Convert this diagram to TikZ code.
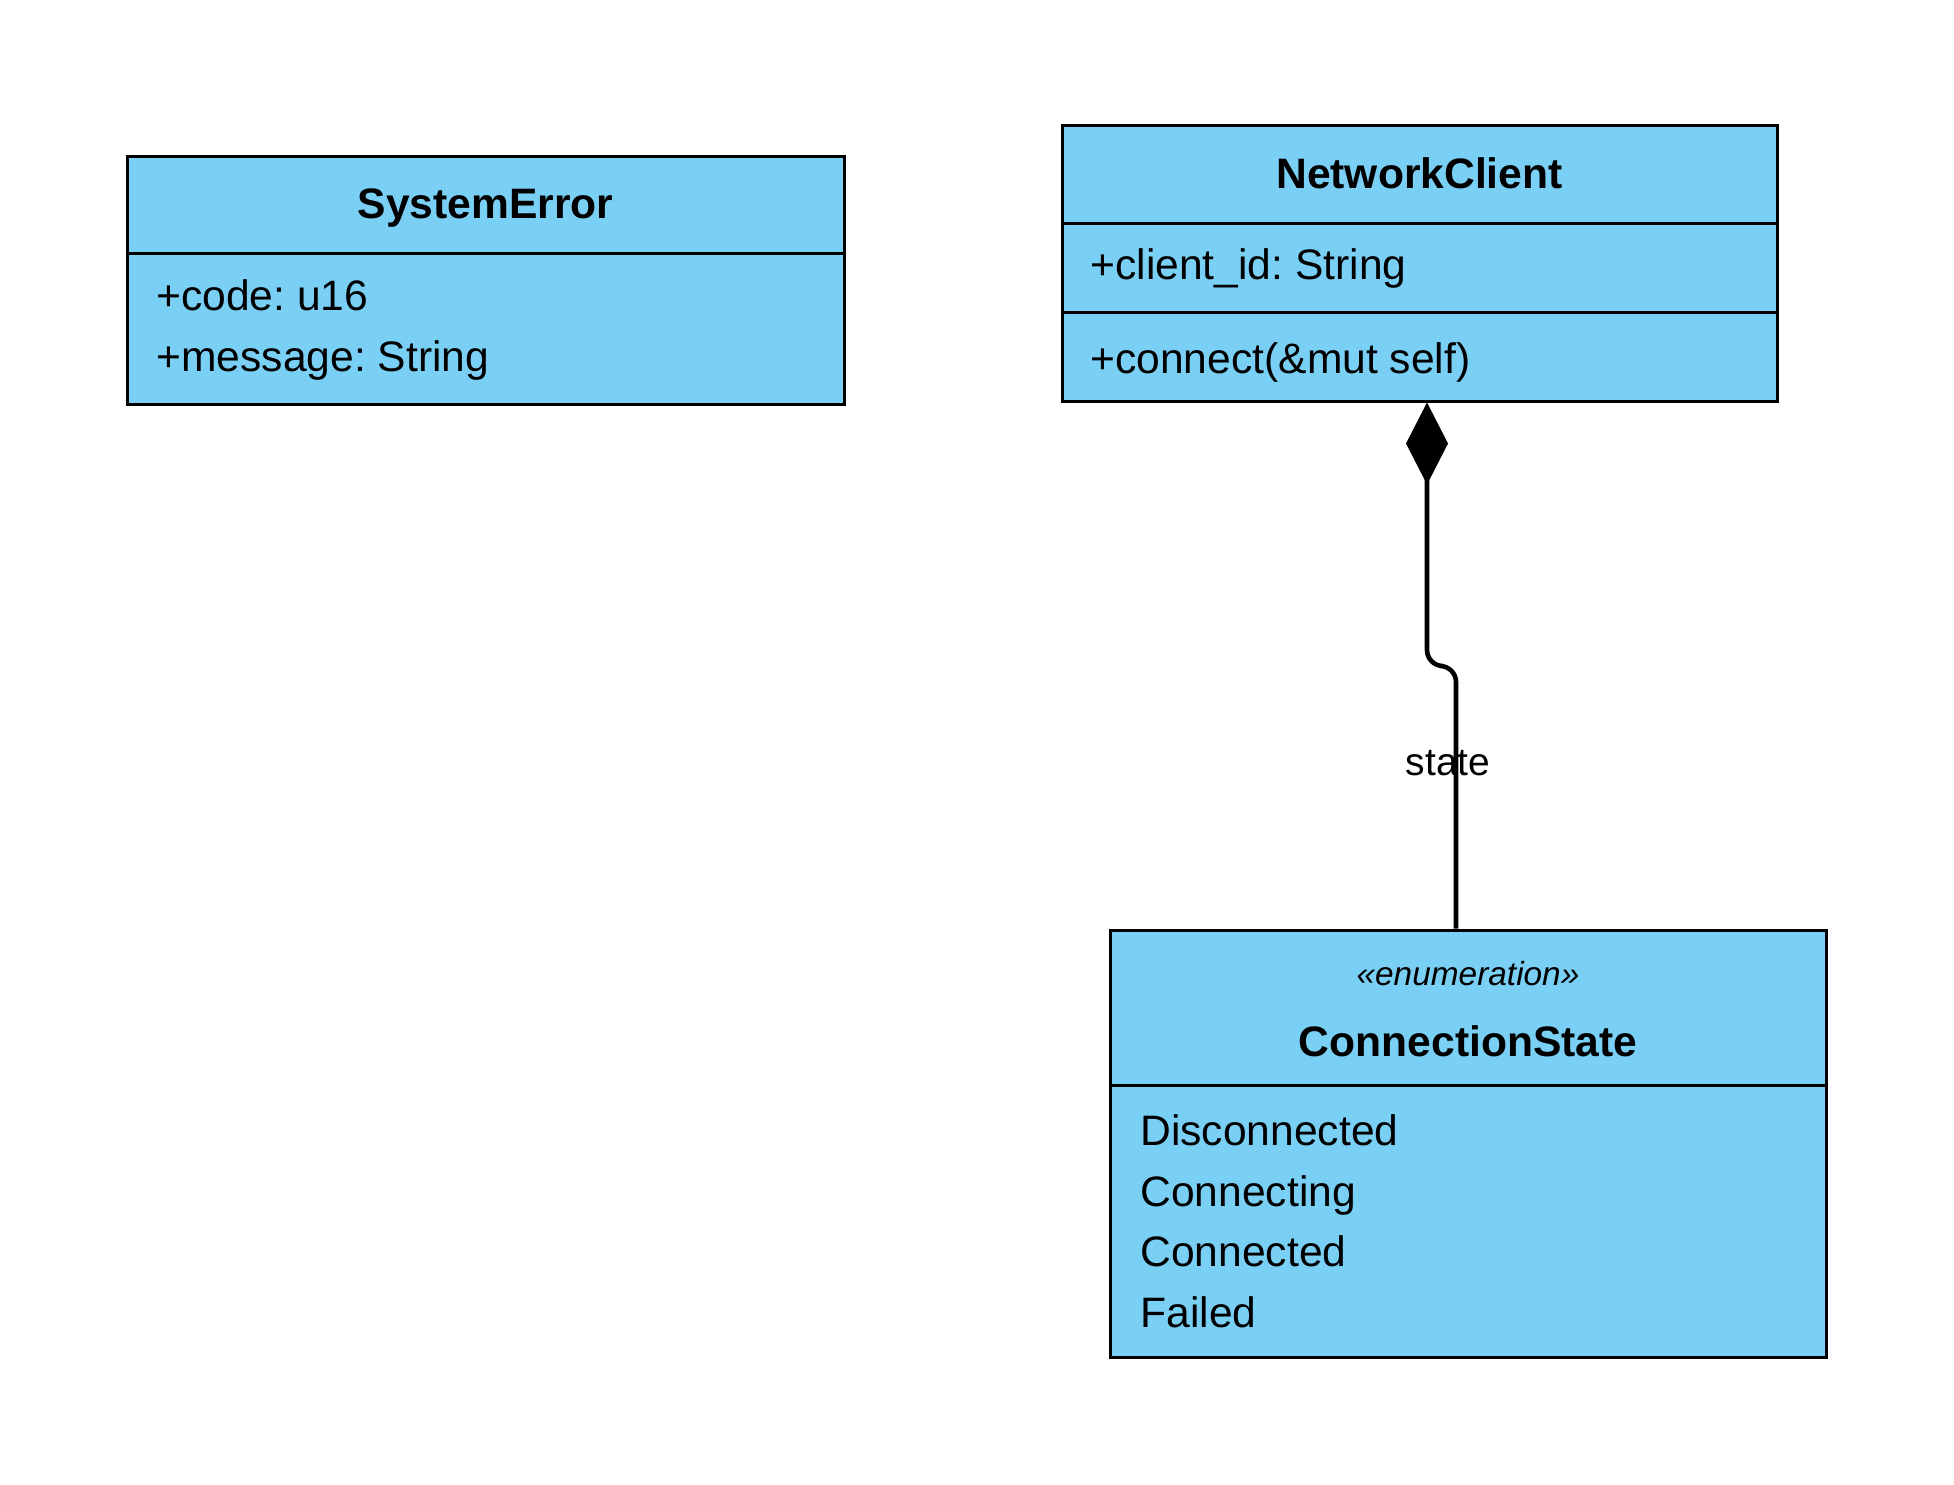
\documentclass[tikz,border=0pt]{standalone}
\usepackage{fontspec}
\setmainfont{Liberation Sans}
\usetikzlibrary{arrows.meta,calc}
\definecolor{umlblue}{RGB}{122,207,244}
\frenchspacing
\tikzset{
  classbox/.style={draw=black, fill=umlblue, line width=1.5pt, inner sep=0pt},
  sepline/.style={draw=black, line width=1.5pt},
  titletext/.style={anchor=base, inner sep=0pt, font=\fontsize{21.3}{25}\selectfont\bfseries},
  stereo/.style={anchor=base, inner sep=0pt, font=\fontsize{16.7}{20}\selectfont\itshape},
  membertext/.style={anchor=base west, inner sep=0pt, font=\fontsize{21.3}{25}\selectfont},
  conn/.style={draw=black, line width=2.3pt, rounded corners=8pt},
  lbl/.style={inner sep=0pt, font=\fontsize{19.5}{23}\selectfont}
}
\begin{document}
\begin{tikzpicture}[x=0.5pt,y=-0.5pt]
\useasboundingbox (0,0) rectangle (1954,1484);
% SystemError
\node[classbox, minimum width=358.5pt, minimum height=124pt] (se) at (485.5,280) {};
\draw[sepline] (127,253) -- (844,253);
\node[titletext] (setitle) at (485.5,218) {SystemError};
\node[membertext] (se1) at (156,310) {+code: u16};
\node[membertext] (se2) at (156,371) {+message: String};
% NetworkClient
\node[classbox, minimum width=357.5pt, minimum height=138pt] (nc) at (1419.5,263) {};
\draw[sepline] (1062,223) -- (1777,223);
\draw[sepline] (1062,312) -- (1777,312);
\node[titletext] (nctitle) at (1419.5,188) {NetworkClient};
\node[membertext] (nc1) at (1090,279) {+client\_id: String};
\node[membertext] (nc2) at (1090,373) {+connect(\&mut self)};
% ConnectionState
\node[classbox, minimum width=358pt, minimum height=213.5pt] (cs) at (1468,1143.5) {};
\draw[sepline] (1110,1085) -- (1826,1085);
\node[stereo] (csst) at (1468,985) {«enumeration»};
\node[titletext] (cstitle) at (1468,1056) {ConnectionState};
\node[membertext] (cs1) at (1140,1145) {Disconnected};
\node[membertext] (cs2) at (1140,1206) {Connecting};
\node[membertext] (cs3) at (1140,1266) {Connected};
\node[membertext] (cs4) at (1140,1327) {Failed};
% connector
\coordinate (ja) at (1427,666);
\coordinate (jb) at (1456,666);
\draw[conn, {Diamond[length=41pt,width=21pt,fill=black]}-] ($(nc.south)+(7.5,0)$) -- (ja) -- (jb) -- ($(cs.north)+(-12,0)$);
\node[lbl] (statelbl) at (1448,763) {state};
\end{tikzpicture}
\end{document}
